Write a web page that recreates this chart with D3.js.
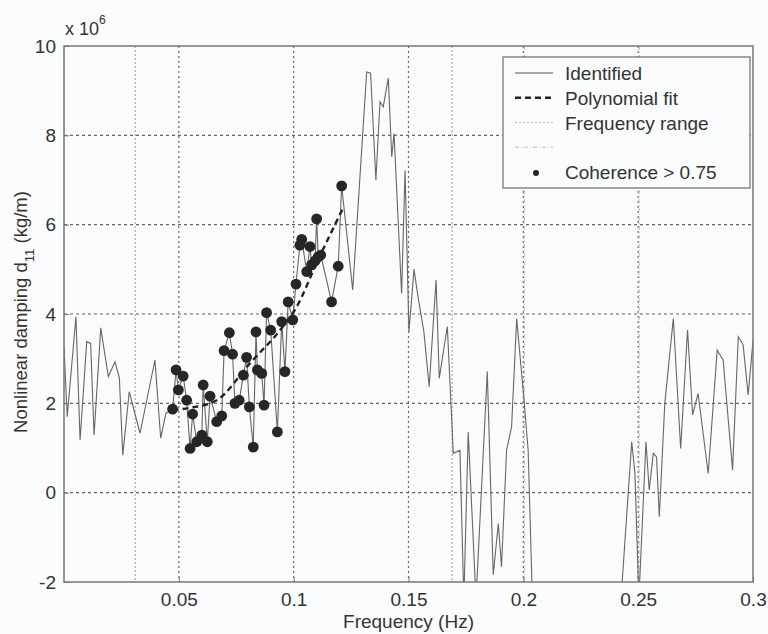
<!DOCTYPE html>
<html>
<head>
<meta charset="utf-8">
<script src="https://cdn.jsdelivr.net/npm/d3@7"></script>
<style>
  body { margin: 0; background: #fbfcfe; }
  svg text { font-family: "Liberation Sans", Arial, sans-serif; fill: #333; }
</style>
</head>
<body>
<div id="canvas"></div>
<script>
// identified nonlinear damping d11 (x 1e6 kg/m) vs frequency (Hz)
const identified = [
  [0.0000, 3.27], [0.0014, 1.70], [0.0052, 3.94], [0.0070, 1.18], [0.0099, 3.38],
  [0.0116, 3.34], [0.0131, 1.29], [0.0160, 3.69], [0.0193, 2.60], [0.0222, 2.93],
  [0.0241, 2.57], [0.0256, 0.84], [0.0284, 2.26], [0.0331, 1.33], [0.0396, 2.97],
  [0.0421, 1.22], [0.0444, 1.78],
  [0.0473, 1.87], [0.0488, 2.75], [0.0498, 2.30], [0.0519, 2.61], [0.0534, 2.07],
  [0.0549, 0.99], [0.0560, 1.76], [0.0578, 1.14], [0.0600, 1.29], [0.0606, 2.41],
  [0.0624, 1.14], [0.0636, 2.16], [0.0665, 1.59], [0.0687, 1.72], [0.0697, 3.18],
  [0.0720, 3.58], [0.0734, 3.10], [0.0744, 2.00], [0.0763, 2.07], [0.0781, 2.63],
  [0.0795, 3.03], [0.0807, 1.92], [0.0824, 1.02], [0.0836, 3.60], [0.0842, 2.75],
  [0.0861, 2.67], [0.0871, 1.96], [0.0882, 4.03], [0.0900, 3.64], [0.0929, 1.36],
  [0.0948, 3.83], [0.0962, 2.71], [0.0976, 4.27], [0.0996, 3.87], [0.1010, 4.67],
  [0.1027, 5.54], [0.1035, 5.67], [0.1057, 4.95], [0.1071, 5.51], [0.1078, 5.10],
  [0.1093, 5.19], [0.1100, 6.13], [0.1107, 5.28], [0.1118, 5.32], [0.1165, 4.27],
  [0.1194, 5.07], [0.1209, 6.87],
  [0.1257, 4.54], [0.1318, 9.42], [0.1335, 9.39], [0.1358, 7.00], [0.1376, 8.75],
  [0.1390, 8.64], [0.1412, 9.28], [0.1427, 7.52], [0.1437, 8.04], [0.1470, 4.46],
  [0.1485, 7.22], [0.1502, 3.60], [0.1524, 5.00], [0.1541, 4.40], [0.1567, 3.60],
  [0.1590, 2.37], [0.1620, 4.76], [0.1634, 2.56], [0.1669, 3.72], [0.1695, 0.88],
  [0.1724, 0.95], [0.1741, -2.40], [0.1760, 1.36], [0.1794, -2.40], [0.1843, 2.71],
  [0.1869, -1.84], [0.1891, -0.69], [0.1905, -1.66], [0.1927, 0.95], [0.1949, 1.48],
  [0.1971, 3.90], [0.2003, 2.07], [0.2021, 0.95], [0.2040, -2.50], [0.2100, -3.20],
  [0.2200, -4.00], [0.2300, -3.50], [0.2400, -3.00], [0.2425, -2.40], [0.2472, 1.14],
  [0.2486, 0.43], [0.2503, -2.40], [0.2534, 1.14], [0.2548, 0.06], [0.2566, 0.88],
  [0.2580, 0.80], [0.2592, -0.54], [0.2616, 2.00], [0.2653, 3.90], [0.2685, 0.99],
  [0.2715, 3.64], [0.2737, 1.74], [0.2761, 2.22], [0.2805, 0.43], [0.2844, 3.19],
  [0.2870, 2.97], [0.2885, 2.07], [0.2911, 0.51], [0.2936, 3.49], [0.2957, 3.31],
  [0.2979, 2.19], [0.3000, 3.40]
];

// points where coherence > 0.75
const coherentRange = [0.047, 0.1215];

// polynomial fit over the coherent band
const polyFit = [
  [0.0473, 1.85], [0.0550, 1.90], [0.0665, 2.07], [0.0810, 2.90],
  [0.0953, 3.72], [0.1013, 4.16], [0.1100, 5.14], [0.1213, 6.35]
];

// frequency range markers
const freqRange = [0.031, 0.169];
const freqRange2 = [0.2, 0.25];

const xTicks = [0.05, 0.1, 0.15, 0.2, 0.25, 0.3];
const yTicks = [-2, 0, 2, 4, 6, 8, 10];

const legendItems = ["Identified", "Polynomial fit", "Frequency range", "", "Coherence > 0.75"];

const W = 768, H = 634;
const pLeft = 64, pRight = 753, pTop = 46, pBottom = 582;

const svg = d3.select("#canvas").append("svg")
  .attr("width", W)
  .attr("height", H);

const x = d3.scaleLinear().domain([0, 0.3]).range([pLeft, pRight]);
const y = d3.scaleLinear().domain([-2, 10]).range([pBottom, pTop]);

svg.append("rect")
  .attr("x", pLeft).attr("y", pTop)
  .attr("width", pRight - pLeft).attr("height", pBottom - pTop)
  .attr("fill", "#f9fbfd");

svg.append("defs").append("clipPath").attr("id", "clip")
  .append("rect")
  .attr("x", pLeft).attr("y", pTop)
  .attr("width", pRight - pLeft).attr("height", pBottom - pTop);

// grid
const grid = svg.append("g").attr("class", "grid");
grid.selectAll("line.vg")
  .data(xTicks.filter(d => d < 0.3))
  .enter().append("line")
  .attr("x1", d => x(d)).attr("x2", d => x(d))
  .attr("y1", pTop).attr("y2", pBottom)
  .attr("stroke", "#666").attr("stroke-width", 1.2)
  .attr("stroke-dasharray", "2,3");
grid.selectAll("line.hg")
  .data(yTicks.filter(d => d > -2 && d < 10))
  .enter().append("line")
  .attr("x1", pLeft).attr("x2", pRight)
  .attr("y1", d => y(d)).attr("y2", d => y(d))
  .attr("stroke", "#666").attr("stroke-width", 1.2)
  .attr("stroke-dasharray", "3,3");

// frequency range lines
const plot = svg.append("g").attr("clip-path", "url(#clip)");
plot.selectAll("line.fr")
  .data(freqRange)
  .enter().append("line")
  .attr("x1", d => x(d)).attr("x2", d => x(d))
  .attr("y1", pTop).attr("y2", pBottom)
  .attr("stroke", "#aaa").attr("stroke-width", 1.2)
  .attr("stroke-dasharray", "2,2");
plot.selectAll("line.fr2")
  .data(freqRange2)
  .enter().append("line")
  .attr("x1", d => x(d) + 1).attr("x2", d => x(d) + 1)
  .attr("y1", pTop).attr("y2", pBottom)
  .attr("stroke", "#bbb").attr("stroke-width", 1)
  .attr("stroke-dasharray", "4,2,1,2");

const line = d3.line()
  .x(d => x(d[0]))
  .y(d => y(d[1]));

plot.append("path")
  .datum(identified)
  .attr("d", line)
  .attr("fill", "none")
  .attr("stroke", "#666")
  .attr("stroke-width", 1.1);

plot.append("path")
  .datum(polyFit)
  .attr("d", line.curve(d3.curveMonotoneX))
  .attr("fill", "none")
  .attr("stroke", "#222")
  .attr("stroke-width", 2.4)
  .attr("stroke-dasharray", "6,4");

plot.selectAll("circle.coh")
  .data(identified.filter(d => d[0] >= coherentRange[0] && d[0] <= coherentRange[1]))
  .enter().append("circle")
  .attr("cx", d => x(d[0]))
  .attr("cy", d => y(d[1]))
  .attr("r", 5.4)
  .attr("fill", "#262626");

// frame
svg.append("rect")
  .attr("x", pLeft).attr("y", pTop)
  .attr("width", pRight - pLeft).attr("height", pBottom - pTop)
  .attr("fill", "none")
  .attr("stroke", "#777")
  .attr("stroke-width", 1.5);

// axes
const xAxis = svg.append("g")
  .attr("transform", `translate(0,${pBottom})`)
  .call(d3.axisBottom(x).tickValues(xTicks).tickSize(-5).tickPadding(11)
    .tickFormat(d => String(d)));
const yAxis = svg.append("g")
  .attr("transform", `translate(${pLeft},0)`)
  .call(d3.axisLeft(y).tickValues(yTicks).tickSize(-5).tickPadding(8)
    .tickFormat(d => String(d)));

[xAxis, yAxis].forEach(a => {
  a.select(".domain").remove();
  a.selectAll(".tick line").attr("stroke", "#777");
  a.selectAll(".tick text").attr("font-size", 19).attr("fill", "#333")
    .attr("font-family", "Liberation Sans, Arial, sans-serif");
});

// x 10^6
const expo = svg.append("text").attr("x", pLeft + 1).attr("y", 35).attr("font-size", 18);
expo.append("tspan").text("x 10");
expo.append("tspan").attr("dy", -11).attr("font-size", 12).text("6");

svg.append("text")
  .attr("x", (pLeft + pRight) / 2)
  .attr("y", 628)
  .attr("text-anchor", "middle")
  .attr("font-size", 19)
  .text("Frequency (Hz)");

const ylab = svg.append("text")
  .attr("transform", "translate(27,312) rotate(-90)")
  .attr("text-anchor", "middle")
  .attr("font-size", 18.5);
ylab.append("tspan").text("Nonlinear damping d");
ylab.append("tspan").attr("dy", 7).attr("font-size", 13).text("11");
ylab.append("tspan").attr("dy", -7).text(" (kg/m)");

// legend
const lg = svg.append("g").attr("transform", "translate(503,57)");
lg.append("rect")
  .attr("width", 247).attr("height", 131)
  .attr("fill", "#fbfcfe")
  .attr("stroke", "#777").attr("stroke-width", 1.3);

const rowY = d3.scalePoint().domain(d3.range(legendItems.length)).range([16, 115]);
const row = lg.selectAll("g.row")
  .data(legendItems)
  .enter().append("g")
  .attr("transform", (d, i) => `translate(0,${rowY(i)})`);

row.append("text")
  .attr("x", 62).attr("y", 7)
  .attr("font-size", 19)
  .text(d => d);

const samples = [
  { stroke: "#555", w: 1.1, dash: null },
  { stroke: "#222", w: 2.4, dash: "6,4" },
  { stroke: "#bbb", w: 1.2, dash: "2,2" },
  { stroke: "#bbb", w: 1, dash: "4,2,1,2" }
];
row.filter((d, i) => i < 4).append("line")
  .attr("x1", 12).attr("x2", 50)
  .attr("stroke", (d, i) => samples[i].stroke)
  .attr("stroke-width", (d, i) => samples[i].w)
  .attr("stroke-dasharray", (d, i) => samples[i].dash);
row.filter((d, i) => i === 4).append("circle")
  .attr("cx", 33).attr("cy", 1).attr("r", 3)
  .attr("fill", "#222");
</script>
</body>
</html>
